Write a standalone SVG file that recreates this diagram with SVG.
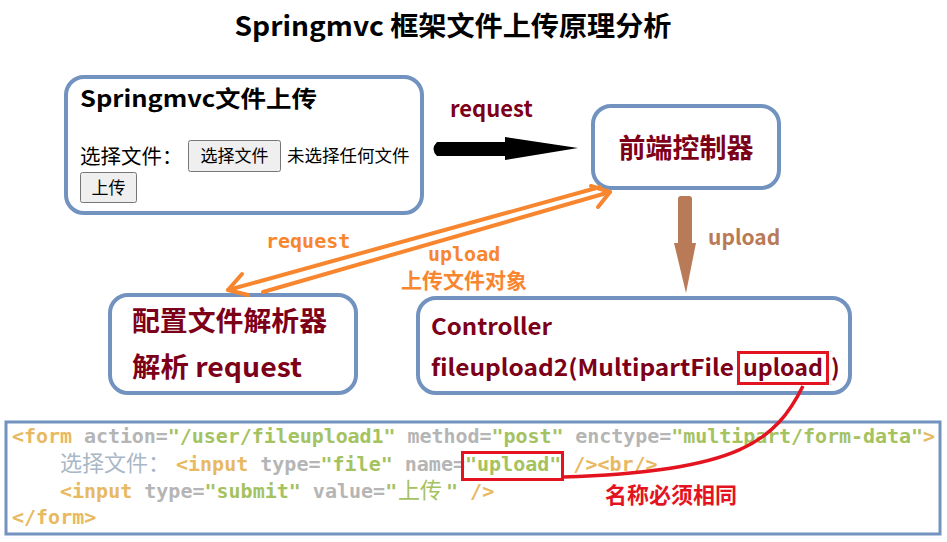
<svg xmlns="http://www.w3.org/2000/svg" width="947" height="542" viewBox="0 0 947 542">
<style>
.box{fill:#fff;stroke:#7293c0;stroke-width:4}
.sans{font-family:"Noto Sans CJK SC","Noto Sans",sans-serif}
.dr{fill:#7d0019;font-weight:bold}
.btn{fill:#efefef;stroke:#767676;stroke-width:1}
.or{fill:#f7862f;font-weight:bold}
.mono{font-family:"DejaVu Sans Mono","Noto Sans CJK SC",monospace;font-size:20px;font-weight:bold}
.tg{fill:#e8b961}.at{fill:#b5b5b5}.st{fill:#a5c261}.tx{fill:#a9b7c6}
.orl{fill:none;stroke:#f7862f;stroke-width:4;stroke-linecap:round;stroke-linejoin:round}
</style>
<rect width="947" height="542" fill="#fff"/>
<text class="sans" x="453" y="36" font-size="27" font-weight="bold" text-anchor="middle" fill="#000" textLength="437" lengthAdjust="spacingAndGlyphs">Springmvc 框架文件上传原理分析</text>

<g id="upload-form">
<rect class="box" x="66" y="77" width="356" height="136" rx="18"/>
<text class="sans" x="80" y="107" font-size="23" font-weight="bold" fill="#000" textLength="237" lengthAdjust="spacingAndGlyphs">Springmvc文件上传</text>
<text class="sans" x="80" y="164" font-size="20.5" fill="#000">选择文件：</text>
<rect class="btn" x="188.5" y="140.5" width="92" height="31" rx="2"/>
<text class="sans" x="234.5" y="162" font-size="17" fill="#000" text-anchor="middle">选择文件</text>
<text class="sans" x="287" y="162" font-size="17.5" fill="#000">未选择任何文件</text>
<rect class="btn" x="80.5" y="172.5" width="56" height="30" rx="2"/>
<text class="sans" x="108.5" y="194" font-size="17" fill="#000" text-anchor="middle">上传</text>
</g>

<g id="dispatcher">
<rect class="box" x="593" y="106" width="186" height="82" rx="18"/>
<text class="sans dr" x="686" y="158" font-size="27" text-anchor="middle">前端控制器</text>
</g>

<g id="resolver">
<rect class="box" x="110" y="295" width="246" height="98" rx="18"/>
<text class="sans dr" x="132" y="331" font-size="27" textLength="195" lengthAdjust="spacingAndGlyphs">配置文件解析器</text>
<text class="sans dr" x="132" y="377" font-size="27" textLength="170" lengthAdjust="spacingAndGlyphs">解析 request</text>
</g>

<g id="controller">
<rect class="box" x="418" y="298" width="432" height="95" rx="18"/>
<text class="sans dr" x="431" y="335" font-size="23" textLength="121" lengthAdjust="spacingAndGlyphs">Controller</text>
<text class="sans dr" x="431" y="376" font-size="23" textLength="303" lengthAdjust="spacingAndGlyphs">fileupload2(MultipartFile</text>
<text class="sans dr" x="743" y="376" font-size="23" textLength="80" lengthAdjust="spacingAndGlyphs">upload</text>
<text class="sans dr" x="831" y="376" font-size="23">)</text>
<rect x="738.5" y="352.5" width="89" height="31" fill="none" stroke="#e3141f" stroke-width="3"/>
</g>

<g id="code">
<rect x="6" y="422" width="934" height="112" fill="#fff" stroke="#7293c0" stroke-width="3"/>
<text class="mono" x="12" y="443" textLength="923" lengthAdjust="spacing"><tspan class="tg">&lt;form</tspan><tspan class="at"> action=</tspan><tspan class="st">"/user/fileupload1"</tspan><tspan class="at"> method=</tspan><tspan class="st">"post"</tspan><tspan class="at"> enctype=</tspan><tspan class="st">"multipart/form-data"</tspan><tspan class="tg">&gt;</tspan></text>
<text class="mono" y="471"><tspan class="tx" x="60" font-weight="normal" font-size="22">选择文件：</tspan><tspan class="tg" x="176">&lt;input</tspan><tspan class="at"> type=</tspan><tspan class="st">"file"</tspan><tspan class="at"> name=</tspan><tspan class="st">"upload"</tspan><tspan class="tg"> /&gt;&lt;br/&gt;</tspan></text>
<text class="mono" y="498"><tspan class="tg" x="60">&lt;input</tspan><tspan class="at"> type=</tspan><tspan class="st">"submit"</tspan><tspan class="at"> value=</tspan><tspan class="st">"</tspan><tspan class="st" x="398" font-weight="normal" font-size="22">上传</tspan><tspan class="st" x="446">"</tspan><tspan class="tg"> /&gt;</tspan></text>
<text class="mono" x="12" y="524"><tspan class="tg">&lt;/form&gt;</tspan></text>
<rect x="462.5" y="452.5" width="100" height="27" fill="none" stroke="#e3141f" stroke-width="3"/>
</g>

<g id="connectors">
<path d="M437 142 L505 142 L505 137 L578 148 L505 160 L505 156 L437 156 Q430 149 437 142 Z" fill="#000"/>
<text class="sans dr" x="450" y="117" font-size="22">request</text>
<path d="M678 199 Q678 196 681 196 L689 196 Q692 196 692 199 L692 243 L696 243 L686 293 L674 243 L678 243 Z" fill="#b97a57"/>
<text class="sans" x="708" y="245" font-size="21" font-weight="bold" fill="#b97a57">upload</text>
<polyline class="orl" points="600,187 228,290"/>
<polyline class="orl" points="242,274 228,290 248,295"/>
<polyline class="orl" points="263,292 610,192"/>
<polyline class="orl" points="591,186 610,192 598,207"/>
<text class="mono or" x="266" y="248" font-size="20.5">request</text>
<text class="mono or" x="428" y="261" font-size="20.5">upload</text>
<text class="sans or" x="401" y="288" font-size="21">上传文件对象</text>
<path d="M803 386 C776 440 740 472 563 477" fill="none" stroke="#e3141f" stroke-width="3.5"/>
<text class="sans" x="605" y="503" font-size="22" font-weight="bold" fill="#e3141f">名称必须相同</text>
</g>
</svg>
